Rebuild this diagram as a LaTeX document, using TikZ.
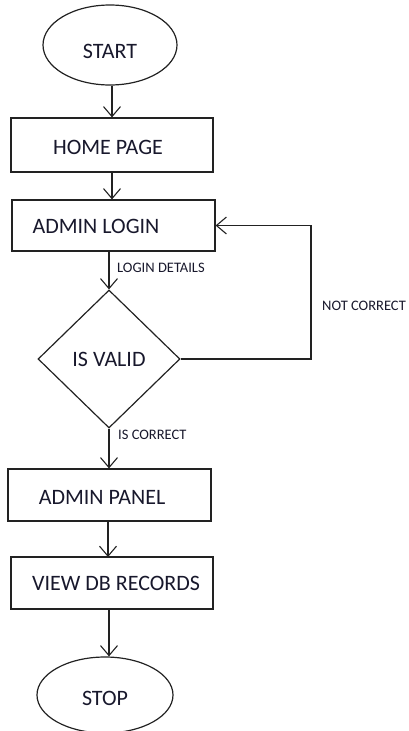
\documentclass[tikz,border=0pt]{standalone}
\usepackage{fontspec}
\setmainfont{Carlito}
\usetikzlibrary{shapes.geometric,arrows.meta}
\definecolor{inkline}{RGB}{34,34,34}
\definecolor{inktext}{RGB}{24,24,44}
\tikzset{
  flowline/.style={draw=inkline, line width=1.2pt},
  arr/.style={flowline, -{Straight Barb[length=10pt,width=17pt,line width=1.1pt]}},
  terminal/.style={ellipse, flowline, inner sep=0pt},
  procbox/.style={rectangle, flowline, inner sep=0pt},
  decision/.style={diamond, flowline, inner sep=0pt, aspect=1, text=inktext, font=\fontsize{22}{24}\selectfont},
  boxtext/.style={inner sep=0pt, text=inktext, font=\fontsize{22}{24}\selectfont},
  edgetext/.style={inner sep=0pt, anchor=west, text=inktext, font=\fontsize{14.5}{16}\selectfont}
}
\begin{document}
\begin{tikzpicture}[x=1pt,y=-1pt]
\useasboundingbox (0,0) rectangle (409,731);

% terminals
\node[terminal, minimum width=134pt, minimum height=80pt] (start) at (110,45) {};
\node[terminal, minimum width=136pt, minimum height=76pt] (stop) at (105,695) {};
\node[boxtext] (starttext) at (110,51) {START};
\node[boxtext] (stoptext)  at (105,698) {STOP};

% process boxes
\node[procbox, minimum width=202pt, minimum height=54pt] (home)  at (112,145) {};
\node[procbox, minimum width=203pt, minimum height=51pt] (login) at (113.5,225.5) {};
\node[procbox, minimum width=203pt, minimum height=52pt] (panel) at (109.5,495) {};
\node[procbox, minimum width=202pt, minimum height=52pt] (view)  at (112,583) {};

\node[boxtext] (hometext)  at (108,147) {HOME PAGE};
\node[boxtext] (logintext) at (96,226)  {ADMIN LOGIN};
\node[boxtext] (paneltext) at (102,497) {ADMIN PANEL};
\node[boxtext] (viewtext)  at (116,583) {VIEW DB RECORDS};

% decision
\node[decision, minimum width=142pt, minimum height=138pt] (valid) at (109,359) {IS VALID};

% connectors
\draw[arr] (home.north |- start.south) -- (home.north);
\draw[arr] (home.south) -- (home.south |- login.north);
\draw[arr] (valid.north |- login.south) -- (valid.north);
\draw[arr] (valid.south) -- (valid.south |- panel.north);
\draw[arr] (108,521) -- (108,557);
\draw[arr] (view.south -| stop.north) ++(4,0) coordinate (vs) -- (vs |- stop.north);

\coordinate (loopcorner) at (311,359);
\draw[arr] (valid.east) -- (loopcorner) |- (login.east);

% connector labels
\node[edgetext] (lbldetails) at (117,268) {LOGIN DETAILS};
\node[edgetext] (lblnot)     at (322,306) {NOT CORRECT};
\node[edgetext] (lblok)      at (118,435) {IS CORRECT};
\end{tikzpicture}
\end{document}
